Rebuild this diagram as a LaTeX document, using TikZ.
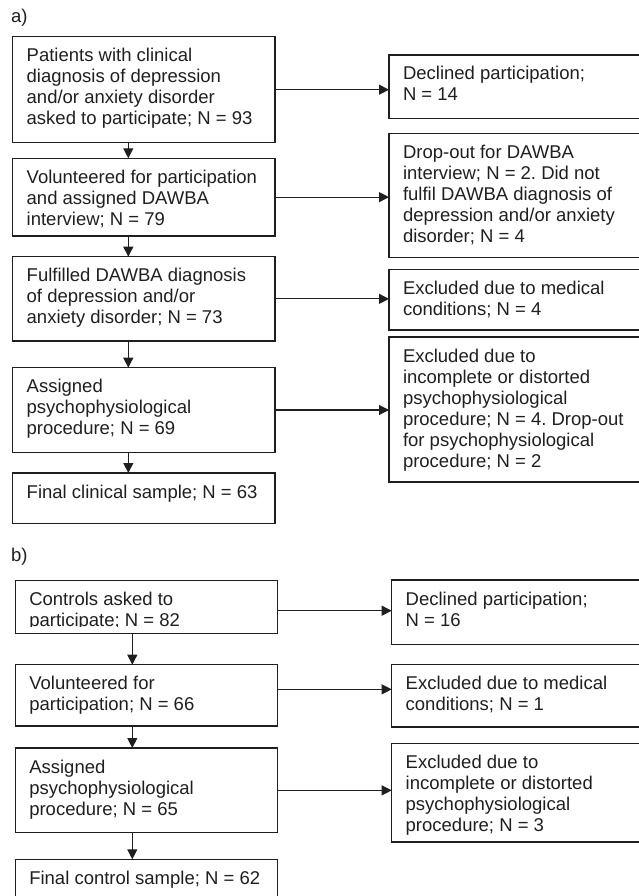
\documentclass[tikz,border=0pt]{standalone}
\usepackage{fontspec}
\setmainfont{Liberation Sans}
\usepackage{tikz}
\usetikzlibrary{positioning}
\usetikzlibrary{arrows.meta}
\definecolor{ink}{gray}{0.12}
\frenchspacing
\newcommand{\stagetext}[3]{\parbox[c][#2][t]{#1}{\raggedright\rule{0pt}{25pt}#3}}
\tikzset{
  stage/.style={draw=ink, line width=1.1pt, anchor=north west, inner xsep=14pt, inner ysep=0pt, outer sep=0pt, text=ink, font=\fontsize{18.5}{21}\selectfont},
  panel/.style={anchor=base west, inner sep=0pt, text=ink, font=\fontsize{18.5}{21}\selectfont},
  flow/.style={draw=ink, line width=1.1pt, -{Triangle[length=10pt,width=10pt]}},
}

\begin{document}
\begin{tikzpicture}[x=1pt,y=-1pt]
    \useasboundingbox (0,0) rectangle (639,896);
    \clip (0,0) rectangle (639,896);
    \node[panel] (la) at (11,22.7) {a)};
    \node[stage] (pa1) at (12.7,36.7) {\stagetext{234.3pt}{106pt}{Patients with clinical\\diagnosis of depression\\and/or anxiety disorder\\asked to participate; N = 93}};
    \node[stage] (pa2) at (12.7,158.3) {\stagetext{234.3pt}{77.7pt}{Volunteered for participation\\and assigned DAWBA\\interview; N = 79}};
    \node[stage] (pa3) at (12.7,256.7) {\stagetext{234.3pt}{84.3pt}{Fulfilled DAWBA diagnosis\\of depression and/or\\anxiety disorder; N = 73}};
    \node[stage] (pa4) at (12.7,367.7) {\stagetext{234.3pt}{84.6pt}{Assigned\\psychophysiological\\procedure; N = 69}};
    \node[stage] (pa5) at (12.7,473) {\stagetext{234.3pt}{50.3pt}{Final clinical sample; N = 63}};
    \node[stage] (xa1) at (389,55) {\stagetext{243pt}{63.7pt}{Declined participation;\\N = 14}};
    \node[stage] (xa2) at (389,133.3) {\stagetext{243pt}{124pt}{Drop-out for DAWBA\\interview; N = 2. Did not\\fulfil DAWBA diagnosis of\\depression and/or anxiety\\disorder; N = 4}};
    \node[stage] (xa3) at (389,269.3) {\stagetext{243pt}{60.7pt}{Excluded due to medical\\conditions; N = 4}};
    \node[stage] (xa4) at (389,337) {\stagetext{243pt}{145pt}{Excluded due to\\incomplete or distorted\\psychophysiological\\procedure; N = 4. Drop-out\\for psychophysiological\\procedure; N = 2}};
    \coordinate (ax) at (128.3,0);
    \foreach \a/\b in {pa1/pa2,pa2/pa3,pa3/pa4,pa4/pa5}
        \draw[flow] (\a.south -| ax) -- (\b.north -| ax);
    \foreach \a/\b in {pa1/xa1,pa2/xa2,pa3/xa3,pa4/xa4}
        \draw[flow] (\a.east) -- (\a.east -| \b.west);

    \node[panel] (lb) at (11,561.7) {b)};
    \node[stage] (ca1) at (15.3,580.7) {\stagetext{234.4pt}{52.6pt}{Controls asked to\\participate; N = 82}};
    \fill[white] ([shift={(1pt,6pt)}]ca1.south west) rectangle ([shift={(-1pt,0.7pt)}]ca1.south east);
    \node[stage] (ca2) at (15.3,664.7) {\stagetext{234.4pt}{61.3pt}{Volunteered for\\participation; N = 66}};
    \node[stage] (ca3) at (15.3,748) {\stagetext{234.4pt}{84.7pt}{Assigned\\psychophysiological\\procedure; N = 65}};
    \node[stage] (ca4) at (15.3,859.3) {\stagetext{234.4pt}{60pt}{Final control sample; N = 62}};
    \node[stage] (xc1) at (391.7,580) {\stagetext{240.3pt}{64.3pt}{Declined participation;\\N = 16}};
    \node[stage] (xc2) at (391.7,664.3) {\stagetext{240.3pt}{62.7pt}{Excluded due to medical\\conditions; N = 1}};
    \node[stage] (xc3) at (391.7,743.3) {\stagetext{240.3pt}{98.7pt}{Excluded due to\\incomplete or distorted\\psychophysiological\\procedure; N = 3}};
    \coordinate (bx) at (132.3,0);
    \foreach \a/\b in {ca1/ca2,ca2/ca3,ca3/ca4}
        \draw[flow] (\a.south -| bx) -- (\b.north -| bx);
    \foreach \a/\b/\s in {ca1/xc1/-3.7,ca2/xc2/6,ca3/xc3/0} {
        \coordinate (s) at ([yshift=\s pt]\a.east);
        \draw[flow] (s) -- (s -| \b.west);
    }
\end{tikzpicture}
\end{document}
